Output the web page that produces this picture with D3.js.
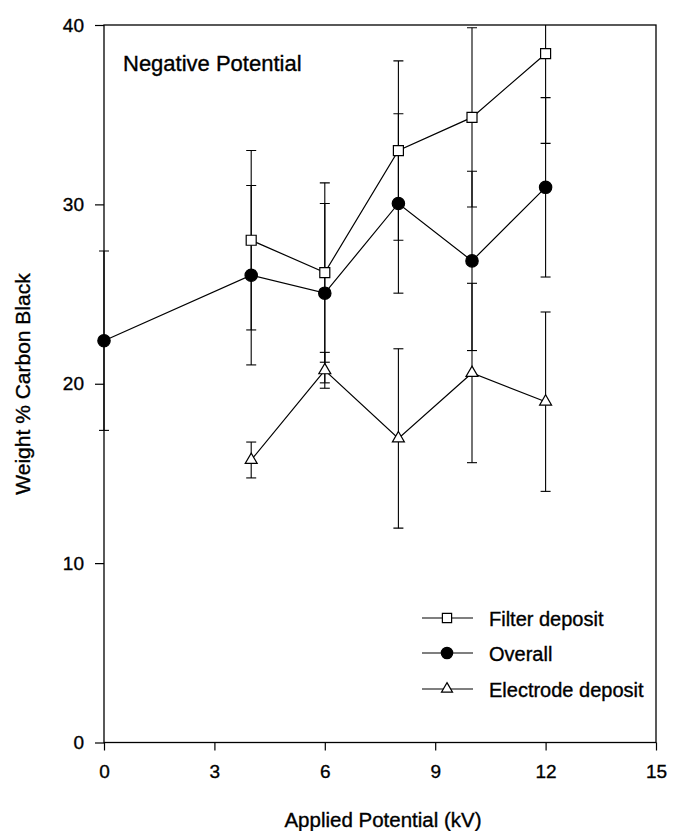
<!DOCTYPE html>
<html><head><meta charset="utf-8">
<script src="https://cdn.jsdelivr.net/npm/d3@7"></script>
<style>body{margin:0;background:#fff}svg{display:block}text{font-family:"Liberation Sans",Arial,sans-serif;fill:#000;stroke:#000;stroke-width:0.35px}</style>
</head><body><svg id="c" width="673" height="831"></svg>
<script>
const xTicks = [0,3,6,9,12,15];
const yTicks = [0,10,20,30,40];
const filterX = [4,6,8,10,12];
const filterY = [28.0,26.2,33.0,34.85,38.4];
const filterErr = [5,5,5,5,5];
const overallX = [0,4,6,8,10,12];
const overallY = [22.4,26.05,25.05,30.05,26.85,30.95];
const overallErr = [5,5,5,5,5,5];
const electrodeX = [4,6,8,10,12];
const electrodeY = [15.75,20.75,16.95,20.6,19.0];
const electrodeErr = [1,1,5,5,5];
const seriesNames = ["Filter deposit","Overall","Electrode deposit"];

const svg = d3.select("#c");
const L=104,R=656,T=25,B=742.5;
const x = d3.scaleLinear().domain([0,15]).range([L,R]);
const y = d3.scaleLinear().domain([0,40]).range([B,T]);

svg.append("defs").append("clipPath").attr("id","clip")
  .append("rect").attr("x",L-20).attr("y",T).attr("width",R-L+20).attr("height",B-T+20);

svg.append("rect").attr("x",L).attr("y",T).attr("width",R-L).attr("height",B-T)
  .attr("fill","none").attr("stroke","#000").attr("stroke-width",1.3);

const xa = svg.append("g").attr("transform",`translate(0,${B})`)
  .call(d3.axisBottom(x).tickValues(xTicks).tickSize(8).tickPadding(14).tickFormat(d3.format("d")));
const ya = svg.append("g").attr("transform",`translate(${L},0)`)
  .call(d3.axisLeft(y).tickValues(yTicks).tickSize(9).tickPadding(11).tickFormat(d3.format("d")));
[xa,ya].forEach(a=>{
  a.select(".domain").remove();
  a.selectAll("line").attr("stroke","#000").attr("stroke-width",1.2);
  a.selectAll("text").style("font-size","19px").attr("fill","#000");
});

const series = [
  {xs:filterX, ys:filterY, es:filterErr, sym:d3.symbolSquare, size:100, fill:"#fff"},
  {xs:overallX, ys:overallY, es:overallErr, sym:d3.symbolCircle, size:120, fill:"#000"},
  {xs:electrodeX, ys:electrodeY, es:electrodeErr, sym:d3.symbolTriangle, size:62, fill:"#fff"}
];

const plot = svg.append("g").attr("clip-path","url(#clip)");
const cap = 5;
series.forEach(s=>{
  const pts = s.xs.map((v,i)=>({x:v,y:s.ys[i],e:s.es[i]}));
  const eg = plot.append("g").attr("stroke","#000").attr("stroke-width",1.1);
  pts.forEach(p=>{
    eg.append("line").attr("x1",x(p.x)).attr("x2",x(p.x)).attr("y1",y(p.y-p.e)).attr("y2",y(p.y+p.e));
    [p.y-p.e,p.y+p.e].forEach(v=>{
      eg.append("line").attr("x1",x(p.x)-cap).attr("x2",x(p.x)+cap).attr("y1",y(v)).attr("y2",y(v));
    });
  });
});
series.forEach(s=>{
  const pts = s.xs.map((v,i)=>({x:v,y:s.ys[i]}));
  plot.append("path").datum(pts)
    .attr("d",d3.line().x(d=>x(d.x)).y(d=>y(d.y)))
    .attr("fill","none").attr("stroke","#000").attr("stroke-width",1.2);
});
series.forEach(s=>{
  const pts = s.xs.map((v,i)=>({x:v,y:s.ys[i]}));
  svg.append("g").selectAll("path").data(pts).join("path")
    .attr("d",d3.symbol().type(s.sym).size(s.size))
    .attr("transform",d=>`translate(${x(d.x)},${y(d.y)})`)
    .attr("fill",s.fill).attr("stroke","#000").attr("stroke-width",1.2);
});

const legY=[618,653,689];
series.forEach((s,i)=>{
  const g = svg.append("g").attr("transform",`translate(0,${legY[i]})`);
  g.append("line").attr("x1",422).attr("x2",473).attr("y1",0).attr("y2",0).attr("stroke","#000").attr("stroke-width",1.2);
  g.append("path").attr("d",d3.symbol().type(s.sym).size(s.size*0.85)).attr("transform","translate(447,0)")
    .attr("fill",s.fill).attr("stroke","#000").attr("stroke-width",1.2);
  g.append("text").attr("x",489).attr("y",7.5).style("font-size","20px").text(seriesNames[i]);
});

svg.append("text").attr("x",123).attr("y",71).style("font-size","22px").text("Negative Potential");
svg.append("text").attr("x",(L+R)/2+3).attr("y",827).attr("text-anchor","middle").style("font-size","20.5px").text("Applied Potential (kV)");
svg.append("text").attr("transform","translate(30,384) rotate(-90)").attr("text-anchor","middle").style("font-size","21px").text("Weight % Carbon Black");
</script></body></html>
